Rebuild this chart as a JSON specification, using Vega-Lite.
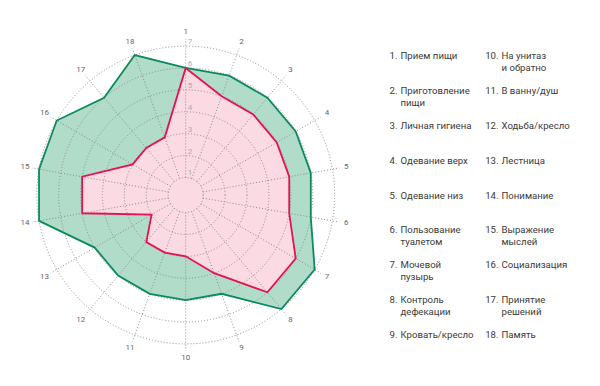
{
  "$schema": "https://vega.github.io/schema/vega-lite/v6.json",
  "width": 600,
  "height": 386,
  "autosize": {"type": "none"},
  "padding": 0,
  "background": "white",
  "config": {"view": {"stroke": null}, "font": "Roboto"},
  "datasets": {
    "axes": [
      {"k": 1, "green": 6, "pink": 6, "label": "Прием пищи"},
      {"k": 2, "green": 6, "pink": 5, "label": "Приготовление\nпищи"},
      {"k": 3, "green": 6, "pink": 5, "label": "Личная гигиена"},
      {"k": 4, "green": 6, "pink": 5, "label": "Одевание верх"},
      {"k": 5, "green": 6, "pink": 5, "label": "Одевание низ"},
      {"k": 6, "green": 6, "pink": 5, "label": "Пользование\nтуалетом"},
      {"k": 7, "green": 7, "pink": 6, "label": "Мочевой\nпузырь"},
      {"k": 8, "green": 7, "pink": 6, "label": "Контроль\nдефекации"},
      {"k": 9, "green": 5, "pink": 4, "label": "Кровать/кресло"},
      {"k": 10, "green": 5, "pink": 3, "label": "На унитаз\nи обратно"},
      {"k": 11, "green": 5, "pink": 3, "label": "В ванну/душ"},
      {"k": 12, "green": 5, "pink": 3, "label": "Ходьба/кресло"},
      {"k": 13, "green": 5, "pink": 2, "label": "Лестница"},
      {"k": 14, "green": 7, "pink": 5, "label": "Понимание"},
      {"k": 15, "green": 7, "pink": 5, "label": "Выражение\nмыслей"},
      {"k": 16, "green": 7, "pink": 3, "label": "Социализация"},
      {"k": 17, "green": 6, "pink": 3, "label": "Принятие\nрешений"},
      {"k": 18, "green": 7, "pink": 3, "label": "Память"}
    ],
    "rings": [
      {"ring": 1}, {"ring": 2}, {"ring": 3}, {"ring": 4}, {"ring": 5}, {"ring": 6}, {"ring": 7}
    ]
  },
  "layer": [
    {
      "data": {"name": "axes"},
      "transform": [
        {"calculate": "(datum.k - 1) * PI / 9", "as": "theta"},
        {"calculate": "(datum.green - 0.2) * sin(datum.theta)", "as": "gx"},
        {"calculate": "(datum.green - 0.2) * cos(datum.theta)", "as": "gy"},
        {"calculate": "(datum.pink - 0.2) * sin(datum.theta)", "as": "px"},
        {"calculate": "(datum.pink - 0.2) * cos(datum.theta)", "as": "py"},
        {"calculate": "0.8 * sin(datum.theta)", "as": "sx"},
        {"calculate": "0.8 * cos(datum.theta)", "as": "sy"},
        {"calculate": "7.12 * sin(datum.theta)", "as": "ex"},
        {"calculate": "7.12 * cos(datum.theta)", "as": "ey"},
        {"calculate": "7.45 * sin(datum.theta)", "as": "lx"},
        {"calculate": "7.45 * cos(datum.theta)", "as": "ly"}
      ],
      "layer": [
        {
          "mark": {"type": "line", "interpolate": "linear-closed", "fill": "#b0dcc9", "stroke": "#b0dcc9", "strokeWidth": 0},
          "encoding": {
            "x": {"field": "gx", "type": "quantitative", "scale": {"domain": [-8.4795, 18.918], "nice": false, "zero": false}, "axis": null},
            "y": {"field": "gy", "type": "quantitative", "scale": {"domain": [-8.721, 8.904], "nice": false, "zero": false}, "axis": null},
            "order": {"field": "k", "type": "quantitative"}
          }
        },
        {
          "mark": {"type": "line", "interpolate": "linear-closed", "fill": "#fbdae4", "stroke": "#fbdae4", "strokeWidth": 0},
          "encoding": {
            "x": {"field": "px", "type": "quantitative", "axis": null},
            "y": {"field": "py", "type": "quantitative", "axis": null},
            "order": {"field": "k", "type": "quantitative"}
          }
        },
        {
          "mark": {"type": "rule", "stroke": "#8c8c8c", "strokeWidth": 1, "strokeDash": [1, 2]},
          "encoding": {
            "x": {"field": "sx", "type": "quantitative", "axis": null},
            "y": {"field": "sy", "type": "quantitative", "axis": null},
            "x2": {"field": "ex"},
            "y2": {"field": "ey"}
          }
        },
        {
          "data": {"name": "rings"},
          "transform": [{"calculate": "datum.ring - 0.2", "as": "ru"}],
          "mark": {"type": "point", "shape": "circle", "filled": false, "stroke": "#8c8c8c", "strokeWidth": 1, "strokeDash": [1, 2], "opacity": 1},
          "encoding": {
            "x": {"datum": 0, "type": "quantitative", "axis": null},
            "y": {"datum": 0, "type": "quantitative", "axis": null},
            "size": {"field": "ru", "type": "quantitative", "scale": {"type": "pow", "exponent": 2, "domain": [0, 6.8], "range": [0, 88710]}, "legend": null}
          }
        },
        {
          "mark": {"type": "line", "interpolate": "linear-closed", "stroke": "#0b8a5d", "strokeWidth": 1.8},
          "encoding": {
            "x": {"field": "gx", "type": "quantitative", "axis": null},
            "y": {"field": "gy", "type": "quantitative", "axis": null},
            "order": {"field": "k", "type": "quantitative"}
          }
        },
        {
          "mark": {"type": "line", "interpolate": "linear-closed", "stroke": "#e2134f", "strokeWidth": 1.8},
          "encoding": {
            "x": {"field": "px", "type": "quantitative", "axis": null},
            "y": {"field": "py", "type": "quantitative", "axis": null},
            "order": {"field": "k", "type": "quantitative"}
          }
        },
        {
          "mark": {"type": "text", "fontSize": 8, "fill": "#666666", "align": "center", "baseline": "middle"},
          "encoding": {
            "x": {"field": "lx", "type": "quantitative", "axis": null},
            "y": {"field": "ly", "type": "quantitative", "axis": null},
            "text": {"field": "k", "type": "quantitative"}
          }
        },
        {
          "data": {"name": "rings"},
          "transform": [{"calculate": "datum.ring - 0.2", "as": "ry"}],
          "mark": {"type": "text", "fontSize": 8, "fill": "#ababab", "align": "left", "baseline": "bottom", "dx": 2, "dy": 0},
          "encoding": {
            "x": {"datum": 0, "type": "quantitative", "axis": null},
            "y": {"field": "ry", "type": "quantitative", "axis": null},
            "text": {"field": "ring", "type": "quantitative"}
          }
        }
      ]
    },
    {
      "data": {"name": "axes"},
      "transform": [
        {"calculate": "datum.k <= 9 ? 'a' : 'b'", "as": "col"},
        {"calculate": "(datum.k - 1) % 9", "as": "row"},
        {"calculate": "datum.k + '.'", "as": "num"}
      ],
      "layer": [
        {
          "mark": {"type": "text", "fontSize": 9.6, "fill": "#3a3a3a", "align": "right", "baseline": "alphabetic", "dx": -3},
          "encoding": {
            "x": {"field": "col", "type": "nominal", "scale": {"type": "point", "range": [400.5, 501.5], "padding": 0}, "axis": null},
            "y": {"field": "row", "type": "ordinal", "scale": {"type": "point", "range": [59, 338], "padding": 0}, "axis": null},
            "text": {"field": "num"}
          }
        },
        {
          "mark": {"type": "text", "fontSize": 9.6, "fill": "#3a3a3a", "align": "left", "baseline": "alphabetic", "lineBreak": "\n", "lineHeight": 12},
          "encoding": {
            "x": {"field": "col", "type": "nominal", "axis": null},
            "y": {"field": "row", "type": "ordinal", "axis": null},
            "text": {"field": "label"}
          }
        }
      ]
    }
  ],
  "resolve": {"scale": {"x": "independent", "y": "independent"}}
}
